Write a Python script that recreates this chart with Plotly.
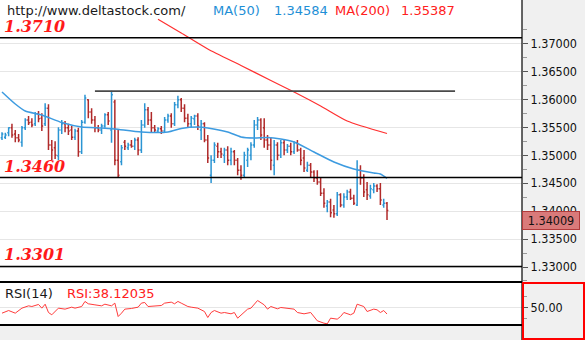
import plotly.graph_objects as go

# ---------------- data ----------------
bar_open = [1.3531, 1.3532, 1.3540, 1.3549, 1.3538, 1.3531, 1.3523, 1.3549, 1.3563, 1.3559,
            1.3556, 1.3574, 1.3566, 1.3556, 1.3584, 1.3518, 1.3513, 1.3499, 1.3545, 1.3556,
            1.3549, 1.3545, 1.3532, 1.3543, 1.3506, 1.3559, 1.3599, 1.3577, 1.3563, 1.3549,
            1.3545, 1.3552, 1.3572, 1.3545, 1.3595, 1.3491, 1.3488, 1.3523, 1.3513, 1.3518,
            1.3516, 1.3527, 1.3509, 1.3554, 1.3581, 1.3563, 1.3549, 1.3543, 1.3547, 1.3543,
            1.3563, 1.3570, 1.3556, 1.3590, 1.3599, 1.3584, 1.3566, 1.3556, 1.3565, 1.3570,
            1.3545, 1.3556, 1.3527, 1.3464, 1.3491, 1.3516, 1.3506, 1.3500, 1.3509, 1.3491,
            1.3506, 1.3491, 1.3473, 1.3464, 1.3491, 1.3500, 1.3518, 1.3554, 1.3563, 1.3549,
            1.3527, 1.3518, 1.3482, 1.3518, 1.3500, 1.3522, 1.3509, 1.3516, 1.3506, 1.3522,
            1.3509, 1.3495, 1.3473, 1.3482, 1.3470, 1.3459, 1.3452, 1.3432, 1.3409, 1.3416,
            1.3402, 1.3395, 1.3429, 1.3411, 1.3425, 1.3434, 1.3423, 1.3411, 1.3473, 1.3459,
            1.3438, 1.3427, 1.3438, 1.3445, 1.3440, 1.3411, 1.3414]
bar_high = [1.3541, 1.3540, 1.3550, 1.3556, 1.3545, 1.3538, 1.3552, 1.3566, 1.3570, 1.3566,
            1.3577, 1.3579, 1.3575, 1.3593, 1.3591, 1.3527, 1.3525, 1.3550, 1.3563, 1.3561,
            1.3556, 1.3552, 1.3547, 1.3549, 1.3563, 1.3608, 1.3600, 1.3584, 1.3570, 1.3554,
            1.3556, 1.3575, 1.3577, 1.3615, 1.3599, 1.3545, 1.3518, 1.3527, 1.3522, 1.3527,
            1.3531, 1.3532, 1.3563, 1.3593, 1.3586, 1.3577, 1.3554, 1.3550, 1.3552, 1.3568,
            1.3574, 1.3575, 1.3595, 1.3606, 1.3602, 1.3591, 1.3574, 1.3570, 1.3572, 1.3575,
            1.3563, 1.3559, 1.3536, 1.3500, 1.3523, 1.3522, 1.3513, 1.3513, 1.3516, 1.3513,
            1.3509, 1.3495, 1.3482, 1.3506, 1.3513, 1.3523, 1.3563, 1.3568, 1.3566, 1.3566,
            1.3536, 1.3532, 1.3527, 1.3523, 1.3527, 1.3527, 1.3520, 1.3522, 1.3525, 1.3527,
            1.3513, 1.3509, 1.3488, 1.3486, 1.3473, 1.3473, 1.3459, 1.3441, 1.3420, 1.3422,
            1.3411, 1.3434, 1.3432, 1.3432, 1.3438, 1.3440, 1.3429, 1.3491, 1.3482, 1.3466,
            1.3452, 1.3447, 1.3450, 1.3448, 1.3450, 1.3422, 1.3416]
bar_low = [1.3527, 1.3529, 1.3534, 1.3531, 1.3523, 1.3523, 1.3515, 1.3545, 1.3554, 1.3550,
           1.3552, 1.3559, 1.3543, 1.3552, 1.3509, 1.3491, 1.3493, 1.3491, 1.3538, 1.3541,
           1.3536, 1.3527, 1.3527, 1.3497, 1.3502, 1.3556, 1.3566, 1.3556, 1.3541, 1.3541,
           1.3538, 1.3549, 1.3554, 1.3522, 1.3482, 1.3459, 1.3482, 1.3509, 1.3509, 1.3513,
           1.3509, 1.3500, 1.3504, 1.3549, 1.3554, 1.3540, 1.3540, 1.3540, 1.3538, 1.3540,
           1.3558, 1.3549, 1.3552, 1.3584, 1.3577, 1.3559, 1.3550, 1.3550, 1.3554, 1.3545,
           1.3527, 1.3523, 1.3486, 1.3450, 1.3486, 1.3495, 1.3495, 1.3486, 1.3482, 1.3482,
           1.3482, 1.3464, 1.3456, 1.3459, 1.3479, 1.3491, 1.3513, 1.3545, 1.3527, 1.3513,
           1.3509, 1.3473, 1.3464, 1.3491, 1.3495, 1.3500, 1.3504, 1.3500, 1.3502, 1.3506,
           1.3482, 1.3470, 1.3470, 1.3459, 1.3452, 1.3447, 1.3427, 1.3406, 1.3398, 1.3389,
           1.3388, 1.3391, 1.3407, 1.3406, 1.3420, 1.3420, 1.3411, 1.3409, 1.3447, 1.3425,
           1.3420, 1.3422, 1.3432, 1.3434, 1.3411, 1.3406, 1.3384]
bar_close = [1.3538, 1.3536, 1.3549, 1.3536, 1.3531, 1.3527, 1.3549, 1.3563, 1.3558, 1.3554,
             1.3574, 1.3565, 1.3552, 1.3584, 1.3518, 1.3509, 1.3500, 1.3545, 1.3556, 1.3549,
             1.3543, 1.3532, 1.3543, 1.3506, 1.3559, 1.3602, 1.3577, 1.3563, 1.3549, 1.3545,
             1.3552, 1.3572, 1.3561, 1.3608, 1.3491, 1.3464, 1.3513, 1.3516, 1.3518, 1.3516,
             1.3527, 1.3509, 1.3554, 1.3581, 1.3563, 1.3549, 1.3545, 1.3547, 1.3543, 1.3563,
             1.3570, 1.3556, 1.3590, 1.3599, 1.3584, 1.3566, 1.3556, 1.3566, 1.3570, 1.3552,
             1.3556, 1.3527, 1.3495, 1.3491, 1.3518, 1.3506, 1.3502, 1.3509, 1.3491, 1.3506,
             1.3491, 1.3473, 1.3464, 1.3500, 1.3509, 1.3518, 1.3554, 1.3563, 1.3536, 1.3527,
             1.3518, 1.3491, 1.3518, 1.3500, 1.3522, 1.3509, 1.3516, 1.3506, 1.3522, 1.3509,
             1.3491, 1.3477, 1.3482, 1.3470, 1.3459, 1.3452, 1.3432, 1.3414, 1.3416, 1.3397,
             1.3395, 1.3429, 1.3411, 1.3425, 1.3434, 1.3423, 1.3414, 1.3473, 1.3459, 1.3434,
             1.3429, 1.3440, 1.3445, 1.3440, 1.3420, 1.3414, 1.34009]
bar_index = list(range(len(bar_open)))

ma50_index = [0, 4, 7, 12, 18, 24, 30, 34, 42, 50, 54, 59, 62, 68, 72, 76, 80, 84, 88, 94,
              100, 106, 112, 114, 116]
ma50_value = [1.36129, 1.35914, 1.35789, 1.35718, 1.35584, 1.35503, 1.35486, 1.35468, 1.35414,
              1.35414, 1.35477, 1.35503, 1.35486, 1.35414, 1.35325, 1.35307, 1.35316, 1.35289,
              1.35235, 1.35056, 1.34877, 1.34752, 1.34681, 1.34663, 1.34584]

ma200_index = [47, 54, 62, 72, 81, 88, 96, 104, 116]
ma200_value = [1.37431, 1.37184, 1.36898, 1.36603, 1.36335, 1.36129, 1.35879, 1.35610, 1.35387]

rsi_index = [0, 2, 4, 6, 8, 9, 11, 12, 13, 14, 15, 16, 17, 19, 21, 22, 24, 25, 26, 28, 30, 31,
             33, 34, 35, 36, 37, 39, 41, 42, 43, 44, 46, 48, 49, 51, 52, 53, 54, 56, 57, 59,
             61, 62, 63, 64, 66, 67, 69, 70, 71, 73, 74, 75, 77, 79, 80, 81, 83, 84, 86, 88,
             89, 91, 93, 94, 95, 97, 98, 99, 101, 102, 103, 105, 106, 107, 109, 110, 112, 113,
             114, 115, 116]
rsi_value = [39.7, 44.5, 39.7, 48.8, 53.0, 51.8, 55.5, 48.8, 56.0, 40.9, 36.7, 42.7, 48.8, 47.0,
             50.6, 48.8, 51.8, 61.0, 56.7, 54.8, 53.0, 56.0, 53.0, 57.9, 33.6, 39.7, 47.0, 48.2,
             50.6, 57.9, 59.1, 51.8, 53.0, 53.6, 57.9, 59.7, 56.7, 61.0, 57.9, 51.8, 50.6, 48.8,
             42.7, 31.8, 40.9, 44.5, 39.7, 40.9, 38.5, 40.9, 30.6, 42.7, 47.0, 48.8, 62.7, 54.8,
             47.0, 51.8, 47.6, 50.0, 48.8, 47.0, 40.9, 38.5, 40.9, 33.6, 25.8, 21.5, 20.3, 30.6,
             28.8, 33.6, 40.9, 36.7, 39.7, 56.0, 51.8, 42.7, 47.0, 45.8, 40.9, 44.5, 38.12035]

levels = [1.3710, 1.3460, 1.3301]
resistance_level = 1.36145
resistance_start, resistance_end = 28, 136.5

price_ticks = [1.33, 1.335, 1.34, 1.345, 1.35, 1.355, 1.36, 1.365, 1.37]

# ---------------- layout geometry ----------------
W, H = 585, 340
PLOT_W = 522                      # right edge of the plotting area (px)
price_top, price_bottom = 18, 283  # px from top
rsi_top, rsi_bottom = 283, 324


def fy(px):
    """Convert px-from-top to paper fraction."""
    return 1 - px / H


def fx(px):
    return px / PLOT_W


BLUE = "#2b95d3"
RED = "#b02a2a"
MA50_C = "#3d9be0"
MA200_C = "#ff3030"
TXT_FONT = "DejaVu Sans"
AX_FONT = "DejaVu Sans Condensed, Liberation Sans, sans-serif"

fig = go.Figure()

fig.add_trace(go.Ohlc(
    x=bar_index, open=bar_open, high=bar_high, low=bar_low, close=bar_close,
    increasing=dict(line=dict(color=BLUE, width=1.5)),
    decreasing=dict(line=dict(color=RED, width=1.5)),
    tickwidth=0.4, xaxis="x", yaxis="y", showlegend=False, hoverinfo="skip"))

fig.add_trace(go.Scatter(
    x=ma50_index, y=ma50_value, mode="lines",
    line=dict(color=MA50_C, width=1.5, shape="spline", smoothing=0.6),
    xaxis="x", yaxis="y", showlegend=False, hoverinfo="skip"))

fig.add_trace(go.Scatter(
    x=ma200_index, y=ma200_value, mode="lines",
    line=dict(color=MA200_C, width=1.2, shape="spline", smoothing=0.6),
    xaxis="x", yaxis="y", showlegend=False, hoverinfo="skip"))

fig.add_trace(go.Scatter(
    x=rsi_index, y=rsi_value, mode="lines",
    line=dict(color="#ff3b3b", width=1),
    xaxis="x2", yaxis="y2", showlegend=False, hoverinfo="skip"))

x_range = [-0.603, 156.67]
price_range = [1.32714, 1.37452]

shapes = []
# white header strip above the price panel
shapes.append(dict(type="rect", xref="paper", yref="paper", x0=0, x1=1, y0=fy(price_top), y1=1,
                   fillcolor="white", line=dict(width=0), layer="below"))
# horizontal level lines
for lvl in levels:
    shapes.append(dict(type="line", xref="paper", yref="y", x0=0, x1=1, y0=lvl, y1=lvl,
                       line=dict(color="black", width=1.6), layer="above"))
# resistance line
shapes.append(dict(type="line", xref="x", yref="y", x0=resistance_start, x1=resistance_end,
                   y0=resistance_level, y1=resistance_level,
                   line=dict(color="#4a4a4a", width=1.8), layer="above"))
# axis separator running the full height
shapes.append(dict(type="line", xref="paper", yref="paper", x0=1, x1=1, y0=0, y1=1,
                   line=dict(color="black", width=1.2), layer="above"))
# red frame around the RSI scale
shapes.append(dict(type="rect", xref="paper", yref="paper",
                   x0=fx(523), x1=fx(584), y0=fy(339), y1=fy(283),
                   line=dict(color="#ff0000", width=2), layer="above"))

annotations = []
for lvl in levels:
    annotations.append(dict(
        x=fx(2), xref="paper", y=lvl, yref="y", xanchor="left", yanchor="bottom",
        text=f"<b><i>{lvl:.4f}</i></b>", showarrow=False, yshift=0,
        font=dict(family="DejaVu Serif", size=16, color="#ff1a1a")))

hdr_y = fy(10)
header = [
    (5, "http://www.deltastock.com/", "#1a1a1a"),
    (211, "MA(50)", "#1e8fd6"),
    (272, f"{ma50_value[-1]:.5f}", "#1e8fd6"),
    (333, "MA(200)", "#ff2020"),
    (399, f"{ma200_value[-1]:.5f}", "#ff2020"),
]
for px, txt, col in header:
    annotations.append(dict(x=fx(px), xref="paper", y=hdr_y, yref="paper", xanchor="left",
                            yanchor="middle", text=txt, showarrow=False,
                            font=dict(family=TXT_FONT, size=13, color=col)))

rsi_y = fy(293)
annotations.append(dict(x=fx(3), xref="paper", y=rsi_y, yref="paper", xanchor="left",
                        yanchor="middle", text="RSI(14)", showarrow=False,
                        font=dict(family=TXT_FONT, size=13, color="#1a1a1a")))
annotations.append(dict(x=fx(65), xref="paper", y=rsi_y, yref="paper", xanchor="left",
                        yanchor="middle", text=f"RSI:{rsi_value[-1]:.5f}", showarrow=False,
                        font=dict(family=TXT_FONT, size=13, color="#ff2020")))

# last price marker on the scale
annotations.append(dict(x=1, xref="paper", y=bar_close[-1], yref="y", xanchor="left",
                        yanchor="top", text=f"{bar_close[-1]:.5f}", showarrow=False,
                        bgcolor="#d97a7a", bordercolor="#b23a3a", borderwidth=1, borderpad=1,
                        width=54, font=dict(family=AX_FONT, size=12.5, color="#111111")))

fig.update_layout(
    width=W, height=H,
    margin=dict(l=0, r=W - PLOT_W, t=0, b=0, pad=0),
    paper_bgcolor="#f0f0f0", plot_bgcolor="white",
    showlegend=False,
    xaxis=dict(domain=[0, 1], anchor="y", range=x_range, showgrid=False, zeroline=False,
               showticklabels=False, ticks="", showline=False,
               rangeslider=dict(visible=False)),
    yaxis=dict(domain=[fy(price_bottom), fy(price_top)], anchor="x", side="right",
               range=price_range, tickvals=price_ticks, tickformat=".5f",
               showgrid=True, gridcolor="#e6e6e6", gridwidth=1, zeroline=False,
               ticks="outside", ticklen=5, tickcolor="#555555", showline=False,
               tickfont=dict(family=AX_FONT, size=12.5, color="#111111"),
               minor=dict(dtick=0.0025, tick0=1.3275, ticks="outside", ticklen=4,
                          tickcolor="#9a9a9a", showgrid=False)),
    xaxis2=dict(domain=[0, 1], anchor="y2", range=x_range, matches="x", showgrid=False,
                zeroline=False, showticklabels=False, ticks="", showline=True, mirror=True,
                linecolor="black", linewidth=1.6, rangeslider=dict(visible=False)),
    yaxis2=dict(domain=[fy(rsi_bottom), fy(rsi_top)], anchor="x2", side="right",
                range=[20, 94.5], tickvals=[50], ticktext=["50.00"],
                showgrid=True, gridcolor="#e6e6e6", zeroline=False,
                ticks="outside", ticklen=5, tickcolor="#555555", showline=False,
                tickfont=dict(family=AX_FONT, size=12.5, color="#111111"),
                minor=dict(tickvals=[30, 70], ticks="outside", ticklen=4,
                           tickcolor="#9a9a9a", showgrid=False)),
    shapes=shapes,
    annotations=annotations,
)

fig.write_html("out.html")
